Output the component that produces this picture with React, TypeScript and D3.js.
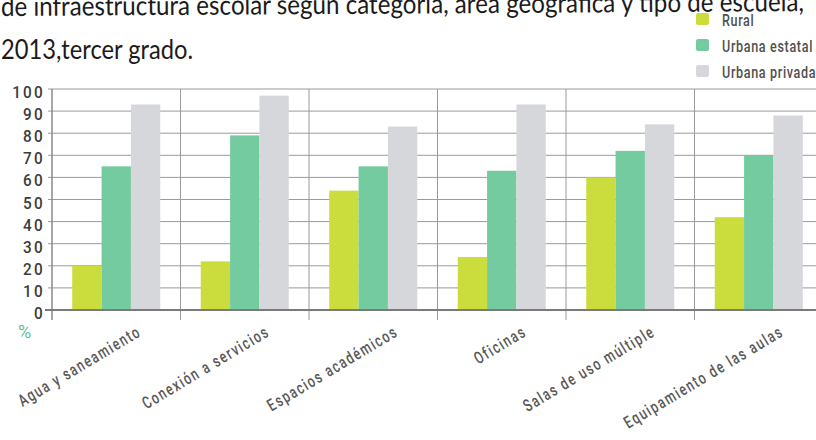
import React from "react";
import * as d3 from "d3";

const categories = [
  "Agua y saneamiento",
  "Conexión a servicios",
  "Espacios académicos",
  "Oficinas",
  "Salas de uso múltiple",
  "Equipamiento de las aulas",
];
const seriesNames = ["Rural", "Urbana estatal", "Urbana privada"];
const rural = [20, 22, 54, 24, 60, 42];
const urbanaEstatal = [65, 79, 65, 63, 72, 70];
const urbanaPrivada = [93, 97, 83, 93, 84, 88];
const yTicks = [0, 10, 20, 30, 40, 50, 60, 70, 80, 90, 100];
const titleLine1 = "de infraestructura escolar según categoría, área geográfica y tipo de escuela,";
const titleLine2 = "2013,tercer grado.";
const yUnit = "%";

const colors = ["#cadd3c", "#74cb9f", "#d5d7db"];
const W = 816;
const H = 440;
const left = 52;
const right = 823;
const top = 89;
const bottom = 310;
const axisFont = "Roboto, 'DejaVu Sans', sans-serif";

export default function App() {
  const seriesValues = [rural, urbanaEstatal, urbanaPrivada];
  const x0 = d3.scaleBand<string>().domain(categories).range([left, right]).padding(0);
  const bw = x0.bandwidth();
  const groupW = bw * 0.685;
  const x1 = d3
    .scaleBand<string>()
    .domain(seriesNames)
    .range([(bw - groupW) / 2, (bw + groupW) / 2])
    .padding(0);
  const y = d3.scaleLinear().domain([0, 100]).range([bottom, top]);

  return (
    <svg
      width={W}
      height={H}
      style={{ position: "absolute", left: 0, top: 0, background: "#fff" }}
    >
      {/* title */}
      <text
        transform="translate(1,16) rotate(-0.35)"
        fontFamily="Lato, 'Open Sans', sans-serif"
        fontSize={27}
        fill="#1b1b1b"
        textLength={803}
        lengthAdjust="spacingAndGlyphs"
      >
        {titleLine1}
      </text>
      <text
        x={1}
        y={59}
        fontFamily="Lato, 'Open Sans', sans-serif"
        fontSize={27}
        fill="#1b1b1b"
        textLength={192}
        lengthAdjust="spacingAndGlyphs"
      >
        {titleLine2}
      </text>

      {/* legend */}
      {seriesNames.map((s, i) => (
        <g key={s} transform={`translate(696, ${13 + i * 26})`}>
          <rect width={13} height={12} rx={2} fill={colors[i]} />
          <text
            transform={`translate(26,13) scale(0.74,1)`}
            fontFamily={axisFont}
            fontSize={17}
            fontWeight={500}
            letterSpacing={0.9}
            fill="#505050"
          >
            {s}
          </text>
        </g>
      ))}

      {/* horizontal grid */}
      {yTicks.map((t) => (
        <g key={t}>
          <line
            x1={t === 0 ? left - 7 : left - 4}
            x2={W}
            y1={y(t)}
            y2={y(t)}
            stroke={t === 0 ? "#7a7a7a" : "#9a9a9a"}
            strokeWidth={t === 0 ? 2 : 1}
          />
          <text
            transform={`translate(45,${y(t) + 9}) scale(0.9,1)`}
            textAnchor="end"
            fontFamily={axisFont}
            fontSize={17}
            fontWeight={500}
            letterSpacing={2.5}
            fill="#3c3c3c"
          >
            {t}
          </text>
        </g>
      ))}

      {/* vertical dividers */}
      {[left, ...categories.map((c) => (x0(c) as number) + bw)].map((xv, i) => (
        <line
          key={i}
          x1={xv}
          x2={xv}
          y1={top}
          y2={bottom + 10}
          stroke={i === 0 ? "#8a8a8a" : "#9a9a9a"}
          strokeWidth={i === 0 ? 1.5 : 1}
        />
      ))}

      {/* bars */}
      {categories.map((c, ci) => (
        <g key={c} transform={`translate(${x0(c)},0)`}>
          {seriesNames.map((s, si) => {
            const v = seriesValues[si][ci];
            return (
              <rect
                key={s}
                x={x1(s)}
                y={y(v)}
                width={x1.bandwidth()}
                height={y(0) - y(v)}
                fill={colors[si]}
              />
            );
          })}
        </g>
      ))}
      {/* redraw zero line over bars */}
      <line x1={left - 7} x2={W} y1={y(0)} y2={y(0)} stroke="#7a7a7a" strokeWidth={2} />

      {/* unit */}
      <text x={18} y={338} fontFamily={axisFont} fontSize={18} fill="#5cbf9c">
        {yUnit}
      </text>

      {/* category labels */}
      {categories.map((c) => {
        const cx = (x0(c) as number) + bw / 2 + 26;
        const cy = 335;
        return (
          <text
            key={c}
            transform={`translate(${cx},${cy}) rotate(-31) scale(0.72,1)`}
            textAnchor="end"
            fontFamily={axisFont}
            fontSize={17}
            fontWeight={500}
            letterSpacing={2.2}
            fill="#585858"
          >
            {c}
          </text>
        );
      })}
    </svg>
  );
}
